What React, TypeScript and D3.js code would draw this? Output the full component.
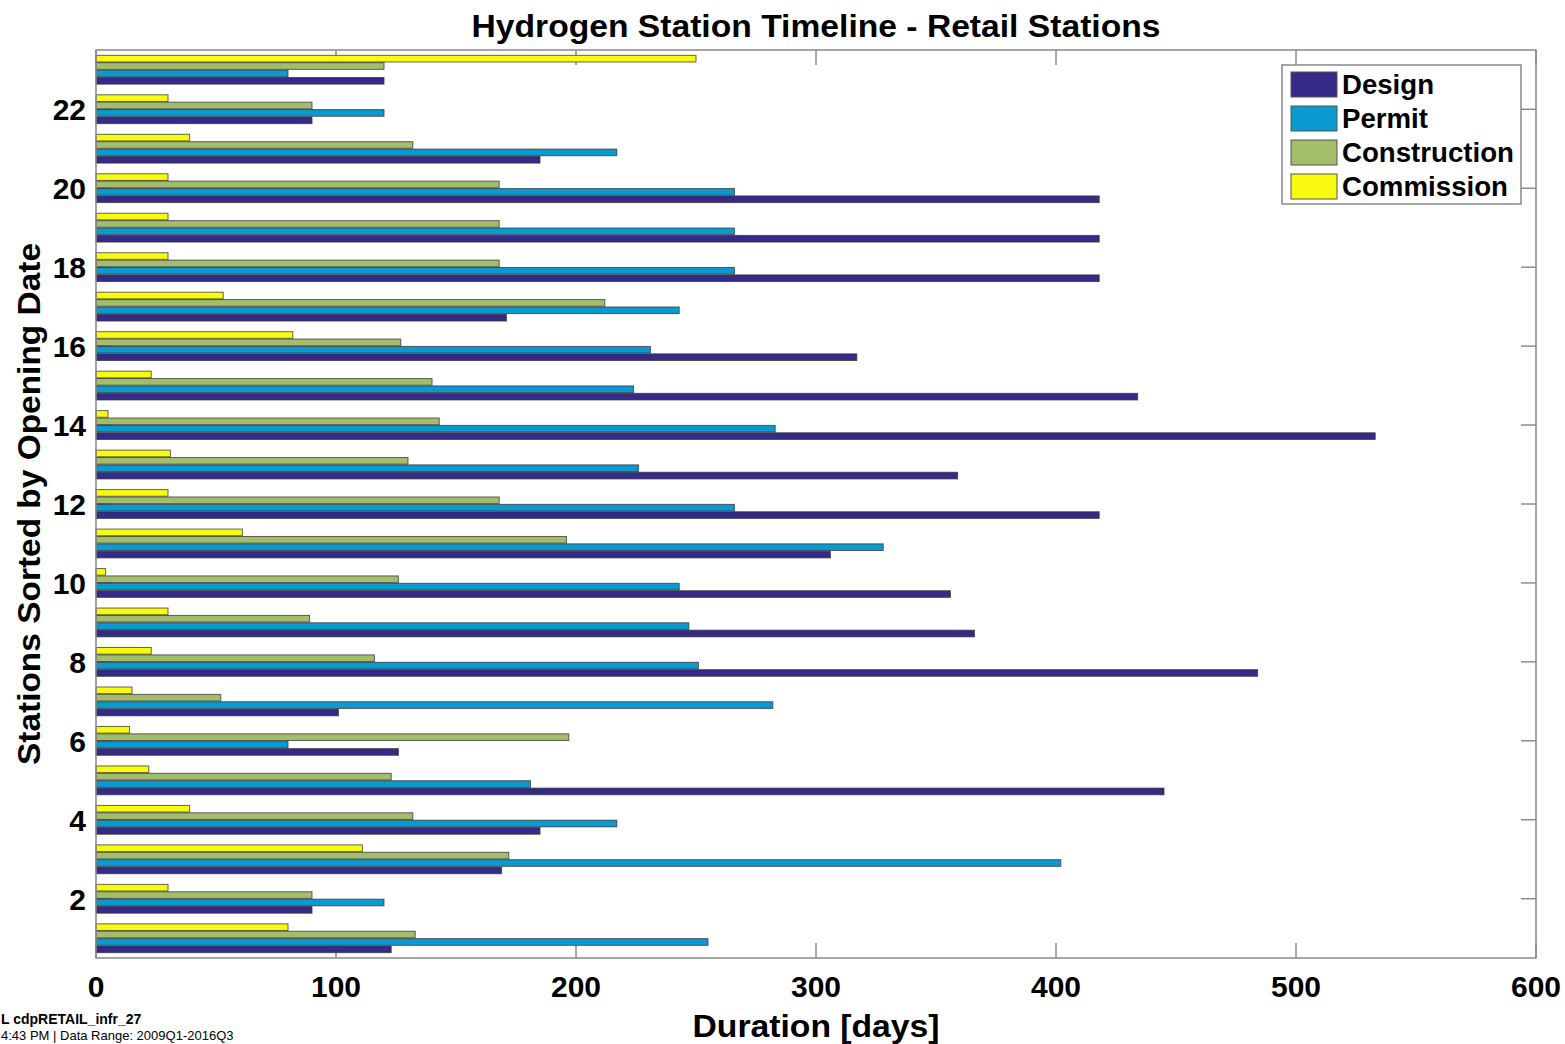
import * as d3 from 'd3';

const stations = d3.range(1, 24);
const series = ['Design', 'Permit', 'Construction', 'Commission'];
const colors = ['#352A87', '#0A9ACF', '#A3BD6A', '#F9FB0E'];

// days per phase, station 1..23
const design = [123, 90, 169, 185, 445, 126, 101, 484, 366, 356, 306, 418, 359, 533, 434, 317, 171, 418, 418, 418, 185, 90, 120];
const permit = [255, 120, 402, 217, 181, 80, 282, 251, 247, 243, 328, 266, 226, 283, 224, 231, 243, 266, 266, 266, 217, 120, 80];
const construction = [133, 90, 172, 132, 123, 197, 52, 116, 89, 126, 196, 168, 130, 143, 140, 127, 212, 168, 168, 168, 132, 90, 120];
const commission = [80, 30, 111, 39, 22, 14, 15, 23, 30, 4, 61, 30, 31, 5, 23, 82, 53, 30, 30, 30, 39, 30, 250];

const xTicks = [0, 100, 200, 300, 400, 500, 600];
const yTicks = [2, 4, 6, 8, 10, 12, 14, 16, 18, 20, 22];

const W = 1565;
const H = 1044;
const left = 96;
const right = 1536;
const top = 50;
const bottom = 958;
const font = '"Liberation Sans", Arial, sans-serif';
const legendWidths = [92, 86, 172, 166];

export default function App() {
  const x = d3.scaleLinear().domain([0, 600]).range([left, right]);
  const y = d3.scaleLinear().domain([0.5, 23.5]).range([bottom, top]);
  const half = 0.365 * (y(0) - y(1));
  const sub = d3.scaleBand<string>()
    .domain(['Commission', 'Construction', 'Permit', 'Design'])
    .range([-half, half])
    .paddingInner(0.1);

  const data = [design, permit, construction, commission];
  const tickLen = 15;

  return (
    <svg width={W} height={H} style={{ position: 'absolute', left: 0, top: 0, background: '#fff' }}>
      {/* ticks (inside, all four sides) */}
      <g stroke="#555" strokeWidth={1}>
        {xTicks.map((t) => (
          <g key={'xt' + t}>
            <line x1={x(t)} x2={x(t)} y1={bottom} y2={bottom - tickLen} />
            <line x1={x(t)} x2={x(t)} y1={top} y2={top + tickLen} />
          </g>
        ))}
        {yTicks.map((t) => (
          <g key={'yt' + t}>
            <line x1={left} x2={left + tickLen} y1={y(t)} y2={y(t)} />
            <line x1={right} x2={right - tickLen} y1={y(t)} y2={y(t)} />
          </g>
        ))}
      </g>

      {/* bars */}
      {series.map((s, si) => (
        <g key={s} fill={colors[si]} stroke="#333" strokeOpacity={0.75} strokeWidth={1}>
          {stations.map((st, i) => (
            <rect
              key={st}
              x={x(0)}
              y={y(st) + sub(s)!}
              width={x(data[si][i]) - x(0)}
              height={sub.bandwidth()}
            />
          ))}
        </g>
      ))}

      {/* frame */}
      <rect x={left} y={top} width={right - left} height={bottom - top} fill="none" stroke="#888" strokeWidth={1.5} />

      {/* tick labels */}
      <g fontFamily={font} fontWeight="bold" fontSize={30} fill="#000">
        {xTicks.map((t) => (
          <text key={'xl' + t} x={x(t)} y={997} textAnchor="middle">{t}</text>
        ))}
        {yTicks.map((t) => (
          <text key={'yl' + t} x={86} y={y(t)} dy="0.36em" textAnchor="end">{t}</text>
        ))}
      </g>

      {/* titles */}
      <text x={(left + right) / 2} y={37} textAnchor="middle" fontFamily={font} fontWeight="bold" fontSize={32}
        textLength={689} lengthAdjust="spacingAndGlyphs">
        Hydrogen Station Timeline - Retail Stations
      </text>
      <text x={(left + right) / 2} y={1037} textAnchor="middle" fontFamily={font} fontWeight="bold" fontSize={32}
        textLength={247} lengthAdjust="spacingAndGlyphs">
        Duration [days]
      </text>
      <text
        transform={`translate(40,${(top + bottom) / 2}) rotate(-90)`}
        textAnchor="middle"
        fontFamily={font}
        fontWeight="bold"
        fontSize={32}
        textLength={522}
        lengthAdjust="spacingAndGlyphs"
      >
        Stations Sorted by Opening Date
      </text>

      {/* legend */}
      <g>
        <rect x={1282} y={65} width={239} height={139} fill="#fff" stroke="#888" strokeWidth={1.5} />
        {series.map((s, i) => (
          <g key={'lg' + s} transform={`translate(1291,${72 + i * 34})`}>
            <rect x={0} y={0} width={46} height={25} fill={colors[i]} stroke="#555" strokeWidth={1} />
            <text x={51} y={12.5} dy="0.36em" fontFamily={font} fontWeight="bold" fontSize={27}
              textLength={legendWidths[i]} lengthAdjust="spacingAndGlyphs">{s}</text>
          </g>
        ))}
      </g>

      {/* footnote */}
      <text x={1} y={1024} fontFamily={font} fontWeight="bold" fontSize={14}>L cdpRETAIL_infr_27</text>
      <text x={1} y={1040} fontFamily={font} fontSize={13}>4:43 PM | Data Range: 2009Q1-2016Q3</text>
    </svg>
  );
}
